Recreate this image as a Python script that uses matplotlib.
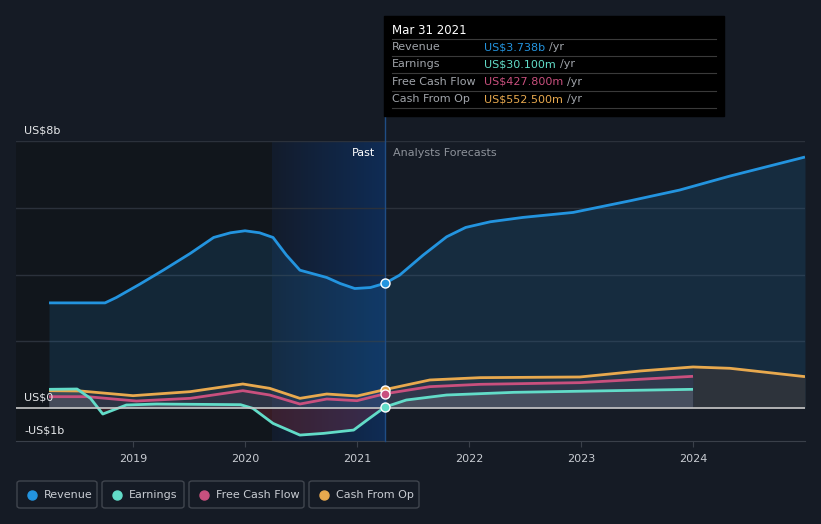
import numpy as np
import matplotlib
matplotlib.use("Agg")
import matplotlib.pyplot as plt
from matplotlib.patches import Rectangle, FancyBboxPatch

# values in US$ billions, x in decimal years
rev_x = [2018.25, 2018.75, 2018.85, 2019.06, 2019.27, 2019.51, 2019.72, 2019.87, 2020.0, 2020.13,
         2020.25, 2020.37, 2020.49, 2020.73, 2020.85, 2020.98, 2021.12, 2021.25,
         2021.38, 2021.59, 2021.80, 2021.97, 2022.19, 2022.48, 2022.93, 2023.44, 2023.88, 2024.33, 2025.0]
rev_y = [3.15, 3.15, 3.31, 3.71, 4.13, 4.63, 5.11, 5.25, 5.31, 5.25,
         5.11, 4.58, 4.13, 3.91, 3.73, 3.58, 3.61, 3.738,
         3.98, 4.58, 5.13, 5.41, 5.58, 5.71, 5.86, 6.21, 6.53, 6.95, 7.52]

earn_x = [2018.25, 2018.50, 2018.62, 2018.73, 2018.94, 2019.21, 2019.96, 2020.07, 2020.25, 2020.49,
          2020.70, 2020.97, 2021.09, 2021.25,
          2021.44, 2021.80, 2022.40, 2024.0]
earn_y = [0.56, 0.57, 0.29, -0.18, 0.09, 0.12, 0.10, -0.01, -0.46, -0.81,
          -0.76, -0.66, -0.36, 0.0301,
          0.24, 0.39, 0.47, 0.56]

fcf_x = [2018.25, 2018.59, 2019.03, 2019.51, 2019.98, 2020.22, 2020.49, 2020.73, 2021.0, 2021.25,
         2021.65, 2022.10, 2022.99, 2024.0]
fcf_y = [0.34, 0.34, 0.21, 0.29, 0.52, 0.39, 0.12, 0.27, 0.22, 0.4278,
         0.64, 0.71, 0.76, 0.95]

cfo_x = [2018.25, 2018.53, 2019.0, 2019.51, 2019.98, 2020.22, 2020.49, 2020.73, 2021.0, 2021.25,
         2021.65, 2022.10, 2022.99, 2023.53, 2024.0, 2024.33, 2025.0]
cfo_y = [0.52, 0.51, 0.37, 0.49, 0.72, 0.59, 0.29, 0.42, 0.36, 0.5525,
         0.84, 0.91, 0.93, 1.11, 1.23, 1.19, 0.94]

years = [2019, 2020, 2021, 2022, 2023, 2024]
NOW = 2021.25
PAST_START = 2020.24
EARN_END = 2024.0

BG = "#151b25"
C_REV, C_EARN, C_FCF, C_CFO = "#2394df", "#62dcc8", "#c9507e", "#e8a94e"

W, H = 821, 524
fig = plt.figure(figsize=(W / 100, H / 100), dpi=100, facecolor=BG)
ax = fig.add_axes([16 / W, 1 - 441.4 / H, (805 - 16) / W, 300.4 / H])
ax.set_facecolor(BG)
ax.set_xlim(2017.955, 2025.0)
ax.set_ylim(-1, 8)

# darker zone before the highlighted past band, gradient blue band
ax.axvspan(2017.955, PAST_START, color="#101419", alpha=0.7, lw=0, zorder=0)
grad = np.linspace(0, 1, 256).reshape(1, -1)
cmap = matplotlib.colors.LinearSegmentedColormap.from_list("b", ["#131c2c", "#0f2c55"])
ax.imshow(grad, extent=[PAST_START, NOW, -1, 8], aspect="auto", cmap=cmap, zorder=0.5)

for g in [2, 4, 6, 8]:
    ax.axhline(g, color="#2b313b", lw=1, zorder=1)
ax.axhline(0, color="#c8c8c8", lw=1.2, zorder=4)

# fills
ax.fill_between(rev_x, rev_y, 0, color=C_REV, alpha=0.14, lw=0, zorder=2)
ex, ey = np.array(earn_x), np.array(earn_y)
ax.fill_between(ex, ey, 0, where=ey >= 0, interpolate=True, color="#8a9aa0", alpha=0.25, lw=0, zorder=2)
ax.fill_between(ex, ey, 0, where=ey <= 0, interpolate=True, color="#b03040", alpha=0.25, lw=0, zorder=2)
cx, cy = np.array(cfo_x), np.array(cfo_y)
ax.fill_between(cx, cy, 0, where=cx <= EARN_END, color="#9a9a9a", alpha=0.10, lw=0, zorder=2)
ax.fill_between(cx, cy, 0, where=cx >= EARN_END, color="#33363b", alpha=0.8, lw=0, zorder=2)
ax.fill_between(fcf_x, fcf_y, 0, color=C_FCF, alpha=0.08, lw=0, zorder=2)

kw = dict(lw=2.0, solid_capstyle="butt", solid_joinstyle="round", zorder=3)
ax.plot(rev_x, rev_y, color=C_REV, **kw)
ax.plot(cfo_x, cfo_y, color=C_CFO, **kw)
ax.plot(fcf_x, fcf_y, color=C_FCF, **kw)
ax.plot(earn_x, earn_y, color=C_EARN, **kw)

# now line and markers
ax.plot([NOW, NOW], [-1, 8.74], color="#1f4d85", lw=1, clip_on=False, zorder=3)
for xs, ys, c in [(rev_x, rev_y, C_REV), (cfo_x, cfo_y, C_CFO), (fcf_x, fcf_y, C_FCF), (earn_x, earn_y, C_EARN)]:
    i = xs.index(NOW)
    ax.plot(NOW, ys[i], "o", ms=6.5, color=c, mec="white", mew=1, zorder=5)

for s in ax.spines.values():
    s.set_visible(False)
ax.spines["bottom"].set_visible(True)
ax.spines["bottom"].set_color("#3a404a")
ax.set_yticks([])
ax.set_xticks(years)
ax.set_xticklabels([str(y) for y in years], color="#c8ccd2", fontsize=8)
ax.tick_params(axis="x", length=4, color="#3a404a", pad=5)

ax.text(2018.03, 8.17, "US$8b", color="#e6e8ea", fontsize=8, va="bottom")
ax.text(2018.03, 0.17, "US$0", color="#e6e8ea", fontsize=8, va="bottom")
ax.text(2018.03, -0.83, "-US$1b", color="#e6e8ea", fontsize=8, va="bottom")
ax.text(NOW - 0.09, 7.65, "Past", color="white", fontsize=8, ha="right", va="center")
ax.text(NOW + 0.07, 7.65, "Analysts Forecasts", color="#8d929a", fontsize=8, ha="left", va="center")

def fx(x):
    return x / W

def fy(y):
    return 1 - y / H

# tooltip
fig.patches.append(Rectangle((fx(384), fy(116)), fx(724) - fx(384), fy(16) - fy(116),
                             transform=fig.transFigure, color="black", zorder=10))
fig.text(fx(392), fy(31), "Mar 31 2021", color="white", fontsize=8.5, va="center", zorder=11)
rows = [("Revenue", "US$3.738b", C_REV), ("Earnings", "US$30.100m", C_EARN),
        ("Free Cash Flow", "US$427.800m", C_FCF), ("Cash From Op", "US$552.500m", C_CFO)]
for k, (lab, val, c) in enumerate(rows):
    yy = 47 + k * 17.4
    fig.lines.append(plt.Line2D([fx(392), fx(716)], [fy(yy - 8.5), fy(yy - 8.5)],
                                transform=fig.transFigure, color="#3a3a3a", lw=0.8, zorder=11))
    fig.text(fx(392), fy(yy), lab, color="#a0a4aa", fontsize=8, va="center", zorder=11)
    t = fig.text(fx(484), fy(yy), val, color=c, fontsize=8, va="center", zorder=11)
    fig.canvas.draw()
    bb = t.get_window_extent()
    fig.text(bb.x1 / W + fx(4), fy(yy), "/yr", color="#a0a4aa", fontsize=8, va="center", zorder=11)
fig.lines.append(plt.Line2D([fx(392), fx(716)], [fy(108), fy(108)],
                            transform=fig.transFigure, color="#3a3a3a", lw=0.8, zorder=11))

# legend
legend_items = [("Revenue", C_REV, 17, 97), ("Earnings", C_EARN, 102, 184),
                ("Free Cash Flow", C_FCF, 189, 304), ("Cash From Op", C_CFO, 309, 419)]
for lab, c, x0, x1 in legend_items:
    fig.patches.append(FancyBboxPatch((fx(x0), fy(508)), fx(x1 - x0), fy(481) - fy(508),
                                      boxstyle="round,pad=0,rounding_size=0.004",
                                      transform=fig.transFigure, fc="none", ec="#40454e", lw=1))
    fig.lines.append(plt.Line2D([fx(x0 + 15)], [fy(494.5)], marker="o", ms=6.5, color=c,
                                transform=fig.transFigure))
    fig.text(fx(x0 + 27), fy(494.5), lab, color="#c8ccd2", fontsize=8, va="center")

fig.savefig("out.png", dpi=100, facecolor=BG)
